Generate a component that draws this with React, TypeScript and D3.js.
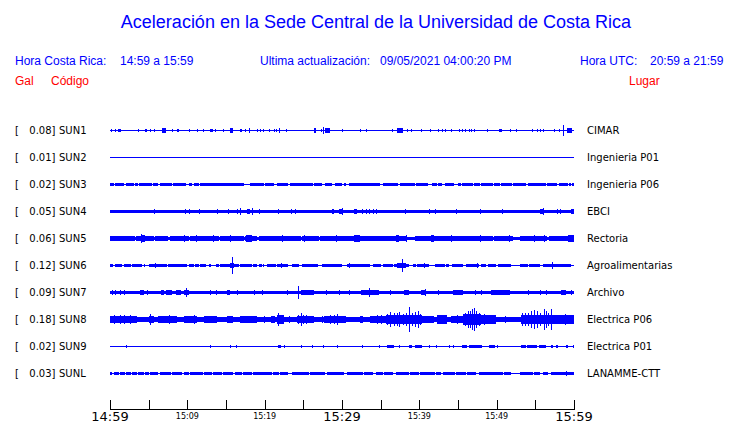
import React from 'react';
import * as d3 from 'd3';

// ---------- data ----------
const stations = ['SUN1', 'SUN2', 'SUN3', 'SUN4', 'SUN5', 'SUN6', 'SUN7', 'SUN8', 'SUN9', 'SUNL'];
const places = ['CIMAR', 'Ingenieria P01', 'Ingenieria P06', 'EBCI', 'Rectoria', 'Agroalimentarias', 'Archivo', 'Electrica P06', 'Electrica P01', 'LANAMME-CTT'];
const peakGal = ['0.08', '0.01', '0.02', '0.05', '0.06', '0.12', '0.09', '0.18', '0.02', '0.03'];
// background noise level (Gal) and level inside quiet gaps
const baseGal = [0.003, 0.003, 0.02, 0.025, 0.035, 0.02, 0.025, 0.035, 0.004, 0.02];
const quietGal = [0.003, 0.003, 0.006, 0.02, 0.022, 0.005, 0.02, 0.03, 0.004, 0.006];

// bursts: [start minute, amplitude Gal, duration minutes]
const sun1Bursts = [[0.1,0.02],[0.6,0.02],[1.0,0.025,0.4],[3.6,0.02],[4.4,0.025,0.3],[5.1,0.02],[5.6,0.02],[6.6,0.03,0.6],[8.0,0.02],[8.6,0.025,0.3],[10.2,0.02],[11.2,0.02],[12.0,0.02],[12.9,0.025,0.3],[13.5,0.02],[14.6,0.02],[15.4,0.03,0.5],[16.8,0.025,0.2],[17.4,0.02],[17.9,0.037],[18.9,0.02],[19.3,0.02],[19.7,0.02],[20.5,0.02],[21.1,0.02],[21.4,0.02],[21.8,0.037],[22.7,0.02],[26.3,0.03,0.3],[27.2,0.02],[27.5,0.045],[27.8,0.03,0.6],[29.9,0.02],[32.3,0.02],[33.1,0.02],[36.4,0.02],[37.0,0.03,0.8],[37.2,0.04],[38.4,0.02],[38.8,0.02],[40.1,0.02],[41.3,0.02],[42.4,0.02],[42.9,0.02],[43.3,0.02],[44.0,0.02],[45.1,0.02],[45.5,0.02],[45.9,0.02],[46.3,0.02],[46.6,0.02],[47.0,0.02],[48.7,0.02],[50.2,0.025,0.4],[51.7,0.02],[52.4,0.025,0.2],[54.5,0.02],[55.2,0.02],[55.5,0.02],[55.9,0.02],[57.3,0.02],[58.0,0.02],[58.5,0.08],[59.0,0.03,0.7]];
const sun2Bursts: number[][] = [];
const sun3Bursts: number[][] = [];
const sun4Bursts = [[5.6,0.035],[9.6,0.035],[10.1,0.035],[11.4,0.03],[13.8,0.03],[15.2,0.035],[16.4,0.035],[16.7,0.05],[17.7,0.04,0.3],[18.3,0.045],[19.2,0.035],[21.6,0.035],[23.4,0.04],[23.9,0.03],[28.7,0.03,0.2],[29.5,0.035,0.5],[29.9,0.045],[31.5,0.04,0.4],[32.5,0.035],[33.1,0.035],[33.4,0.035],[34.0,0.035],[34.3,0.035],[38.1,0.035],[41.2,0.03],[42.0,0.03],[44.7,0.03],[47.8,0.035],[50.6,0.03],[55.6,0.04,0.4],[55.9,0.05],[57.8,0.035],[58.1,0.035],[59.5,0.035,0.4]];
const sun5Bursts = [[3.9,0.045,0.5],[4.0,0.06],[9.5,0.045],[11.0,0.045],[11.9,0.04],[13.2,0.045],[14.4,0.042,1.5],[15.5,0.05],[17.5,0.045,0.8],[17.8,0.055],[19.2,0.04],[22.2,0.045],[25.0,0.045],[26.3,0.04],[28.9,0.042,0.8],[29.2,0.047],[31.5,0.045,0.7],[31.8,0.05],[33.2,0.04],[36.9,0.045,0.4],[38.2,0.045],[41.4,0.045,0.4],[44.0,0.045],[46.1,0.04],[47.8,0.045],[51.5,0.045],[54.8,0.045],[55.2,0.04],[56.0,0.045],[59.1,0.045,0.9],[59.7,0.05]];
const sun6Bursts = [[5.8,0.035],[15.5,0.03,0.5],[15.7,0.12],[22.0,0.035],[30.8,0.035],[37.1,0.035,1.1],[37.7,0.1],[40.6,0.035],[47.4,0.03],[57.1,0.05]];
const sun7Bursts = [[0.2,0.035],[0.6,0.035],[1.2,0.035],[1.8,0.04],[3.8,0.035,0.5],[4.7,0.03],[6.5,0.035,0.4],[7.2,0.04,0.8],[8.5,0.04,0.6],[9.5,0.04,0.6],[9.8,0.06],[12.9,0.03],[13.6,0.03],[15.1,0.035,0.4],[16.4,0.035],[18.5,0.04],[19.6,0.035],[22.8,0.035],[24.3,0.09],[24.6,0.035,1.7],[25.2,0.04],[27.9,0.035],[29.5,0.03],[30.9,0.03],[32.4,0.032,2.3],[33.4,0.06],[36.2,0.04],[38.0,0.04,0.6],[40.2,0.035,0.6],[40.7,0.05],[42.3,0.035],[44.3,0.032,1.3],[47.1,0.03],[47.9,0.03],[49.2,0.032,2.4],[54.0,0.035],[55.6,0.03],[56.3,0.03],[58.3,0.035,0.6],[59.5,0.03]];
const sun8Bursts = [[0,0.05,3.4],[0.5,0.06],[1.2,0.065],[1.8,0.06],[2.5,0.06],[3.0,0.055],[5.0,0.05,0.6],[5.1,0.075],[6.2,0.05,2.4],[6.8,0.055],[7.6,0.06],[9.5,0.05,1.7],[10.0,0.055],[10.8,0.065],[12.1,0.045,1.7],[12.6,0.055],[15.1,0.05,0.8],[16.8,0.045,2.2],[17.5,0.055],[19.8,0.045],[20.7,0.05,0.6],[21.5,0.06,0.9],[21.7,0.1],[22.0,0.07],[23.1,0.045],[24.1,0.05,2.2],[24.3,0.07],[24.6,0.09],[24.9,0.07],[25.3,0.06],[27.4,0.05],[27.6,0.05,2.8],[28.4,0.06],[28.9,0.07],[29.3,0.08],[32.2,0.045,0.4],[33.5,0.05,2.1],[34.4,0.06],[35.0,0.065],[35.6,0.06,4.7],[35.8,0.08],[36.2,0.11],[36.6,0.09],[37.0,0.1],[37.3,0.11],[37.8,0.08],[38.2,0.09],[38.6,0.18],[39.0,0.1],[39.4,0.11],[39.7,0.13],[40.0,0.08],[40.3,0.045,1.5],[42.2,0.06,1.3],[42.7,0.07],[44.0,0.05,1.7],[44.8,0.06],[45.6,0.08,2.3],[45.9,0.1],[46.2,0.12],[46.5,0.125],[46.8,0.15],[47.0,0.165],[47.3,0.13],[47.6,0.1],[47.9,0.06,2.0],[48.3,0.075],[49.0,0.07],[51.0,0.05],[53.1,0.07,4.1],[53.2,0.1],[53.6,0.09],[54.0,0.1],[54.4,0.13],[54.8,0.14],[55.2,0.12],[55.6,0.1],[56.0,0.16],[56.3,0.12],[56.6,0.1],[57.0,0.16],[57.2,0.06,2.8],[58.8,0.08],[59.5,0.07]];
const sun9Bursts = [[2.0,0.018],[12.9,0.015],[15.4,0.015],[16.2,0.015],[21.6,0.02,0.4],[22.4,0.015],[24.6,0.02,0.2],[26.1,0.015],[27.5,0.015],[29.3,0.015],[32.5,0.015],[34.7,0.02,0.2],[35.8,0.02,0.8],[37.3,0.02],[38.6,0.02,0.4],[39.4,0.02,0.9],[41.2,0.015],[42.1,0.015],[43.8,0.015],[44.3,0.015],[45.5,0.02,0.6],[46.3,0.02,1.8],[48.9,0.02,0.8],[50.0,0.015],[53.1,0.02,0.6],[53.9,0.02,1.3],[55.4,0.02,0.9],[57.0,0.02,0.2],[57.6,0.02,0.3],[58.9,0.02,0.2],[59.8,0.015]];
const sunLBursts = [[58.9,0.03],[59.3,0.025]];

// quiet gaps: [start minute, duration minutes]
const sun1Gaps: number[][] = [];
const sun2Gaps: number[][] = [];
const sun3Gaps = [[0.4],[1.8],[3.0],[3.6],[5.4],[6.2],[7.9],[9.8,0.4],[10.6],[11.4],[17.2,0.9],[19.8],[21.1,0.4],[23.0],[26.2],[27.3,0.4],[28.6,0.4],[30.0],[30.4,0.4],[34.9,0.3],[37.2,0.3],[39.4],[41.1,0.5],[42.2],[42.9,0.3],[44.4,0.5],[45.3],[46.9],[47.8],[49.4,0.2],[50.4],[51.9,0.2],[53.7,0.3],[56.3,0.2],[57.8,0.2],[59.1],[59.5]];
const sun4Gaps: number[][] = [];
const sun5Gaps = [[3.2],[5.6],[7.5],[10.1],[14.0],[17.2],[19.0],[24.6],[26.9],[38.4,1.0],[49.4],[52.1,0.9],[56.5]];
const sun6Gaps = [[0.3,0.3],[1.5,0.2],[2.6],[4.1,0.2],[4.5,0.5],[7.3,0.2],[9.9,0.2],[10.8],[11.4],[12.3,0.5],[13.0,0.6],[14.0],[16.6],[18.3],[19.0],[19.6],[19.9,0.4],[21.4],[22.0],[22.9,0.6],[24.4,0.4],[26.8,0.6],[30.0,0.6],[33.5,0.4],[35.0,0.2],[36.5,0.2],[38.6,0.5],[39.5],[41.25,0.65],[43.2,0.2],[43.8,0.3],[45.6,0.4],[47.7,0.2],[48.6,0.2],[49.9,0.2],[51.8,1.1],[54.0],[55.5,0.4],[59.6,0.4]];
const sun7Gaps: number[][] = [];
const sun8Gaps: number[][] = [];
const sun9Gaps: number[][] = [];
const sunLGaps = [[0.2,0.2],[1.1],[1.9],[2.6],[3.4],[4.3],[5.0],[6.2],[7.8],[9.3],[10.1],[11.9],[13.1],[14.4],[15.9],[17.0],[18.3],[20.9],[21.8],[22.9,0.6],[25.7],[27.8],[30.2,0.4],[32.6],[33.9,0.4],[35.2],[36.5,0.4],[38.6],[39.9],[41.9],[42.8],[44.5],[46.0],[47.3,0.4],[50.7],[51.8,1.1],[54.6],[55.5,0.4],[56.6,0.4]];

const allBursts = [sun1Bursts, sun2Bursts, sun3Bursts, sun4Bursts, sun5Bursts, sun6Bursts, sun7Bursts, sun8Bursts, sun9Bursts, sunLBursts];
const allGaps = [sun1Gaps, sun2Gaps, sun3Gaps, sun4Gaps, sun5Gaps, sun6Gaps, sun7Gaps, sun8Gaps, sun9Gaps, sunLGaps];

const tickMinutes = [0, 5, 10, 15, 20, 25, 30, 35, 40, 45, 50, 55, 60];
const labelMinutes = [0, 10, 20, 30, 40, 50, 60];
const labelTexts = ['14:59', '15:09', '15:19', '15:29', '15:39', '15:49', '15:59'];
const labelMajor = [true, false, false, true, false, false, true];

// ---------- layout ----------
const W = 740, H = 423;
const x = d3.scaleLinear().domain([0, 60]).range([110, 574]);
const amp = d3.scaleLinear().domain([0, 0.18]).range([0, 12.3]);
const rowY = d3.scaleLinear().domain([0, 1]).range([130.5, 157.5]);
const BLUE = '#0000ff';
const DEF_DUR = 0.13;
const GAP_DUR = 0.15;

function envelopeAt(i: number, t: number) {
  let e = baseGal[i];
  for (const g of allGaps[i]) {
    const d = g[1] ?? GAP_DUR;
    if (t >= g[0] && t < g[0] + d) e = quietGal[i];
  }
  for (const b of allBursts[i]) {
    const d = b[2] ?? DEF_DUR;
    if (t >= b[0] && t < b[0] + d) e = Math.max(e, b[1]);
  }
  return e;
}

const samples = d3.range(0, 60, 60 / 464).concat([60]);

function tracePath(i: number) {
  const cy = rowY(i);
  const area = d3.area<number>()
    .x((t) => x(t))
    .y0((t) => cy - amp(envelopeAt(i, t)))
    .y1((t) => cy + amp(envelopeAt(i, t)))
    .curve(d3.curveStepAfter);
  return area(samples) || '';
}

export default function App() {
  const sans = '"Liberation Sans", Arial, Helvetica, sans-serif';
  const dv = '"DejaVu Sans", sans-serif';
  return (
    <svg width={W} height={H} style={{ position: 'absolute', left: 0, top: 0, background: '#fff' }}>
      <text x={376} y={28} textAnchor="middle" fontFamily={sans} fontSize={18} fill={BLUE}>
        Aceleración en la Sede Central de la Universidad de Costa Rica
      </text>
      <g fontFamily={sans} fontSize={12} fill={BLUE}>
        <text x={15} y={65}>Hora Costa Rica:</text>
        <text x={120} y={65}>14:59 a 15:59</text>
        <text x={260} y={65}>Ultima actualización:</text>
        <text x={380} y={65}>09/05/2021 04:00:20 PM</text>
        <text x={580} y={65}>Hora UTC:</text>
        <text x={650} y={65}>20:59 a 21:59</text>
      </g>
      <g fontFamily={sans} fontSize={12} fill="#ff0000">
        <text x={15} y={85}>Gal</text>
        <text x={51} y={85}>Código</text>
        <text x={629} y={85}>Lugar</text>
      </g>
      {stations.map((s, i) => {
        const cy = rowY(i);
        return (
          <g key={s}>
            <g fontFamily={dv} fontSize={10} fill="#000">
              <text x={15} y={cy + 3.5}>[</text>
              <text x={55.5} y={cy + 3.5} textAnchor="end">{peakGal[i] + ']'}</text>
              <text x={59} y={cy + 3.5}>{s}</text>
              <text x={587} y={cy + 3.5}>{places[i]}</text>
            </g>
            <line x1={x(0)} x2={x(60)} y1={cy} y2={cy} stroke={BLUE} strokeWidth={1} shapeRendering="crispEdges" />
            <path d={tracePath(i)} fill={BLUE} shapeRendering="crispEdges" />
          </g>
        );
      })}
      <g>
        <line x1={x(0)} x2={x(60)} y1={409.5} y2={409.5} stroke="#000" strokeWidth={1} shapeRendering="crispEdges" />
        {tickMinutes.map((m) => (
          <line key={m} x1={Math.round(x(m)) + 0.5} x2={Math.round(x(m)) + 0.5} y1={400} y2={409.5} stroke="#000" strokeWidth={1} shapeRendering="crispEdges" />
        ))}
        {labelMinutes.map((m, k) => (
          <text key={m} x={x(m)} y={labelMajor[k] ? 421 : 419} textAnchor="middle" fontFamily={dv}
            fontSize={labelMajor[k] ? 13 : 8} fill="#000">
            {labelTexts[k]}
          </text>
        ))}
      </g>
    </svg>
  );
}
